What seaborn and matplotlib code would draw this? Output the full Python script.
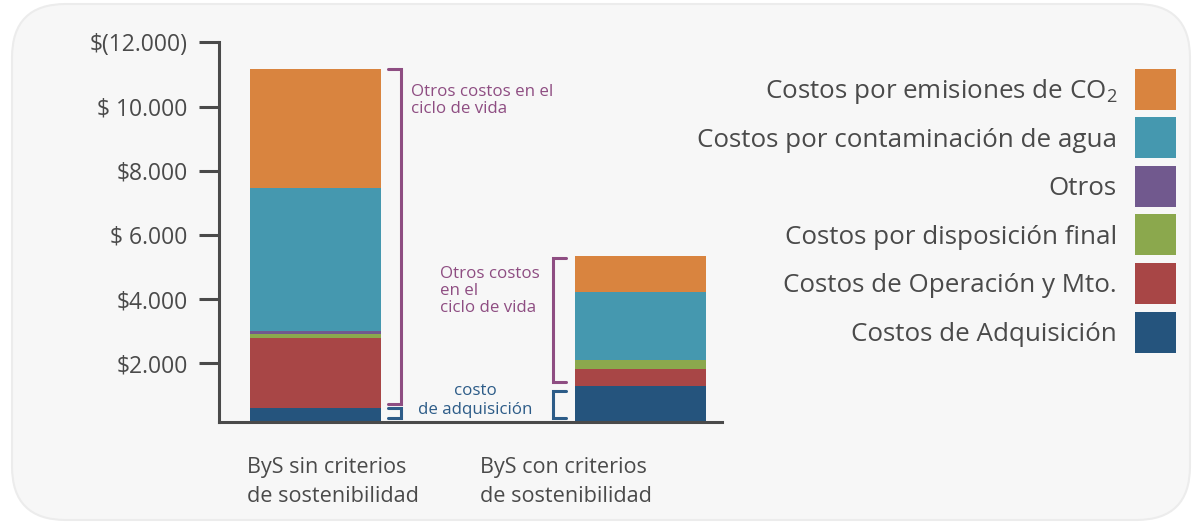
import matplotlib
matplotlib.use("Agg")
import matplotlib.pyplot as plt
from matplotlib.patches import FancyBboxPatch, Rectangle
import numpy as np
import seaborn as sns

# datos
categorias = ["ByS sin criterios\nde sostenibilidad", "ByS con criterios\nde sostenibilidad"]
componentes = ["Costos de Adquisición", "Costos de Operación y Mto.",
               "Costos por disposición final", "Otros",
               "Costos por contaminación de agua",
               "Costos por emisiones de CO$_\\mathregular{2}$"]
adquisicion = [606, 1302]
operacion = [2183, 520]
disposicion = [134, 281]
otros = [84, 0]
agua = [4470, 2130]
co2 = [3703, 1114]
colores = ["#25547D", "#A84646", "#8BA84D", "#71598E", "#4598AF", "#D9843F"]
yticks = [2000, 4000, 6000, 8000, 10000, 12000]
ytick_labels = ["$2.000", "$4.000", "$ 6.000", "$8.000", "$ 10.000", "$(12.000)"]

sns.set_style("white")
plt.rcParams["font.family"] = ["Open Sans", "DejaVu Sans"]
plt.rcParams["mathtext.fontset"] = "custom"
plt.rcParams["mathtext.rm"] = "Open Sans"
gris = "#4A4A4A"
morado = "#8E4D82"
azul = "#2D5C88"

fig = plt.figure(figsize=(11.94, 5.24), dpi=100)
fig.patch.set_facecolor("white")
W, H = 1194, 524
panel = FancyBboxPatch((12 / W, 4 / H), 1178 / W, 516 / H,
                       boxstyle="round,pad=0,rounding_size=0.045",
                       transform=fig.transFigure, facecolor="#F7F7F7",
                       edgecolor="#ECECEC", lw=1.5, mutation_aspect=W / H, zorder=-5)
fig.add_artist(panel)

ax = fig.add_axes([219 / W, 1 - 421.7 / H, 503 / W, (421.7 - 42.5) / H])
ax.set_facecolor("none")
ax.set_zorder(2)

capas = np.cumsum([adquisicion, operacion, disposicion, otros, agua, co2], axis=0)
for i in reversed(range(len(capas))):
    sns.barplot(x=categorias, y=capas[i], color=colores[i], saturation=1,
                width=0.403, linewidth=0, ax=ax)

ax.set_xlim(-0.297, 1.251)
ax.set_ylim(180, 12000)
ax.set_yticks(yticks)
ax.set_yticklabels(ytick_labels, fontsize=16.5, color=gris)
ax.set_xticks([])
ax.set_xlabel("")
ax.tick_params(axis="y", direction="out", length=14.5, width=2.2, color=gris, pad=8, left=True)
for s in ["top", "right"]:
    ax.spines[s].set_visible(False)
for s in ["left", "bottom"]:
    ax.spines[s].set_color(gris)
    ax.spines[s].set_linewidth(2.2)

# etiquetas de categorias
for x, lab in zip([-0.211, 0.506], categorias):
    ax.annotate(lab, xy=(x, 0), xycoords=("data", "axes fraction"),
                xytext=(0, -57.8), textcoords="offset points",
                ha="left", va="baseline", fontsize=15.6, color=gris, linespacing=1.5)

# llaves
total = capas[-1]
acq = capas[0]
def llave(x, y0, y1, dx, color):
    ax.plot([x + dx, x, x, x + dx], [y1, y1, y0, y0], color=color, lw=2.2,
            clip_on=False, solid_joinstyle="miter")

llave(0.263, acq[0] + 140, total[0], -0.04, morado)
llave(0.263, 300, acq[0], -0.04, azul)
llave(0.731, acq[1] + 120, total[1] - 60, 0.04, morado)
llave(0.731, 290, acq[1] - 150, 0.04, azul)

ax.text(0.294, 9807, "Otros costos en el\nciclo de vida", ha="left", va="baseline",
        fontsize=12.2, color=morado, linespacing=1.1)
ax.text(0.383, 3600, "Otros costos\nen el\nciclo de vida", ha="left", va="baseline",
        fontsize=12.2, color=morado, linespacing=1.1)
ax.text(0.491, 420, "costo\nde adquisición", ha="center", va="baseline",
        fontsize=12.2, color=azul, linespacing=1.25)

# leyenda
for i, (lab, col) in enumerate(zip(componentes[::-1], colores[::-1])):
    cy = 89 + 48.6 * i
    fig.add_artist(Rectangle((1135 / W, 1 - (cy + 20.5) / H), 41 / W, 41 / H,
                             transform=fig.transFigure, facecolor=col, edgecolor="none"))
    fig.text(1117 / W, 1 - (cy + 9) / H, lab, ha="right", va="baseline",
             fontsize=18.7, color=gris)

fig.savefig("out.png", dpi=100, facecolor="white")
